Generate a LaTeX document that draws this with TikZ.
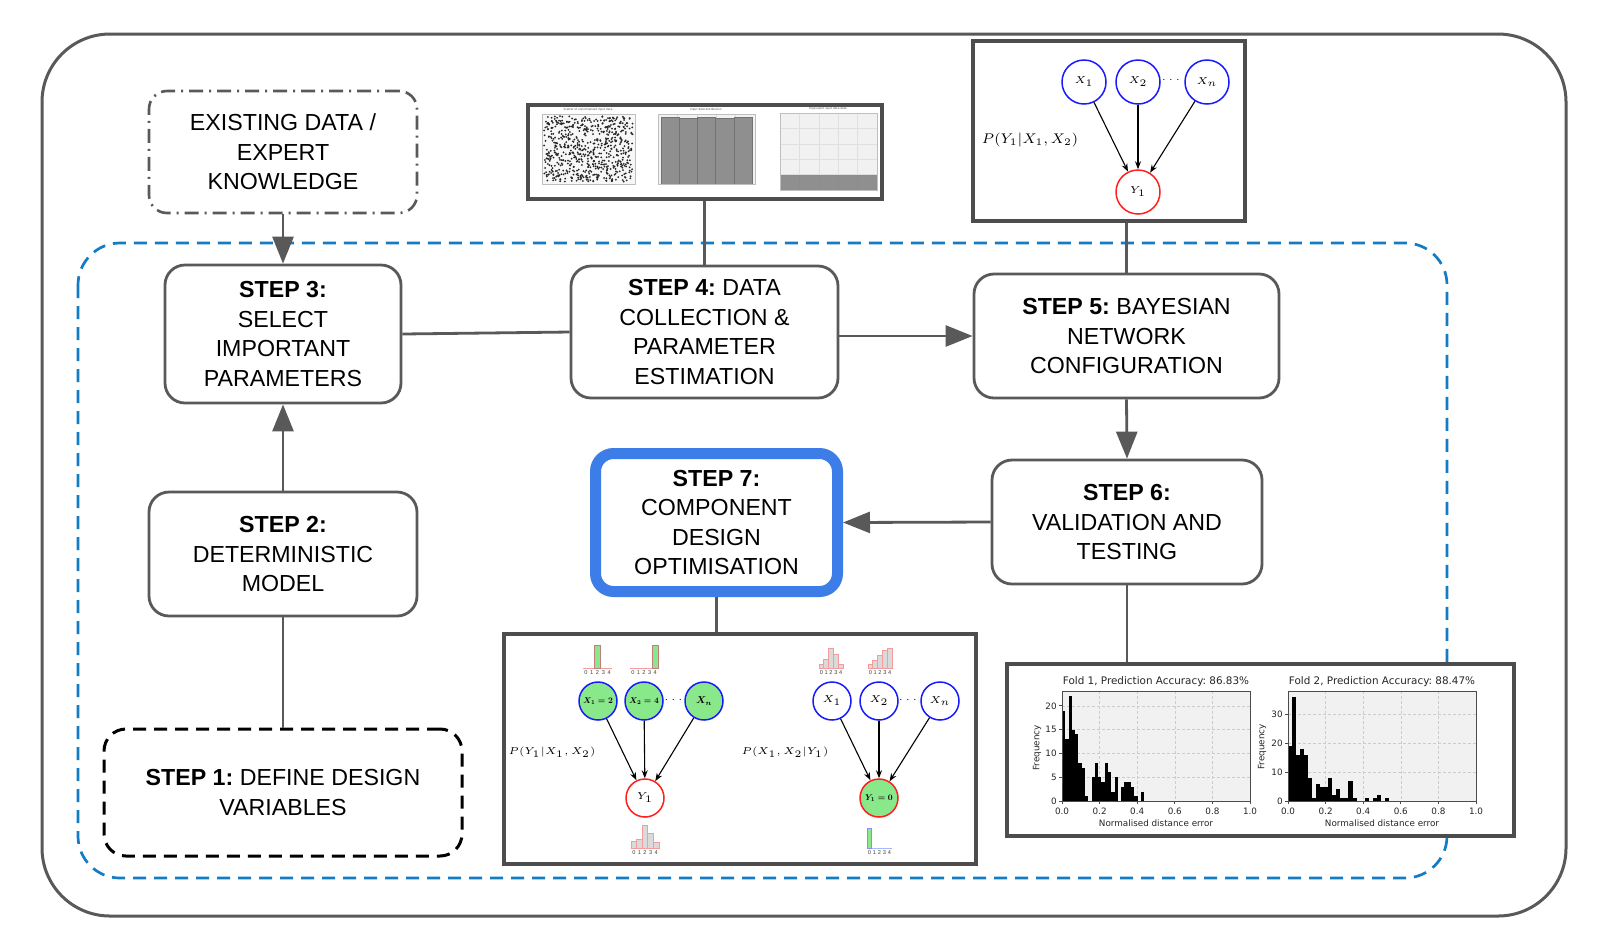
\documentclass[tikz,border=0pt]{standalone}
\usepackage{fontspec}
\usepackage{graphicx}
\setmainfont{Liberation Sans}
\newfontfamily\plotfont{DejaVu Sans}
\usetikzlibrary{arrows.meta}
\definecolor{cgray}{HTML}{595959}
\definecolor{bgray}{HTML}{4D4D4D}
\definecolor{cblue}{HTML}{137CC4}
\definecolor{sblue}{HTML}{3D7DE8}
\definecolor{bnblue}{HTML}{1A1AFF}
\definecolor{bnred}{HTML}{FF1F1F}
\definecolor{bngreen}{HTML}{89E889}
\definecolor{plotbg}{HTML}{F1F1F1}
\definecolor{histpink}{HTML}{F29C9C}
\definecolor{histgray}{HTML}{DADADA}
\definecolor{bargray}{HTML}{8F8F8F}
\definecolor{hbase}{HTML}{A8B8FF}
\newcommand{\bnbold}[2]{\scalebox{#1}{\fontsize{10}{12}\selectfont\boldmath$#2$}}
\begin{document}
\frenchspacing
\begin{tikzpicture}[x=0.5pt,y=-0.5pt,
  stepbox/.style={draw=cgray, line width=1.4pt, rounded corners=10pt, fill=white, align=center, inner sep=0pt, font=\fontsize{11.6pt}{14.75pt}\selectfont},
  conn/.style={draw=cgray, line width=1.4pt},
  arr/.style={conn, -{Triangle[length=13.5pt,width=10.5pt]}},
  inset/.style={draw=bgray, line width=1.6pt, fill=white, inner sep=0pt},
  bnx/.style={circle, draw=bnblue, line width=0.75pt, inner sep=0pt, minimum size=22pt, font=\fontsize{5}{6}\selectfont},
  bny/.style={bnx, draw=bnred},
  bnxs/.style={bnx, minimum size=19pt, font=\fontsize{4.7}{5.5}\selectfont},
  bnys/.style={bnxs, draw=bnred},
  bnlab/.style={inner sep=0pt},
  bnedge/.style={draw=black, line width=0.55pt, -{Stealth[length=4pt,width=3pt]}},
  plab/.style={inner sep=0pt, font=\fontsize{6.6}{8}\selectfont},
  plabs/.style={inner sep=0pt, font=\fontsize{5.3}{6.5}\selectfont},
  digit/.style={inner sep=0pt, font=\fontsize{2.8}{3}\selectfont, text=black!75},
  gridl/.style={draw=gray!40, line width=0.3pt, dash pattern=on 1.5pt off 1pt},
  axisl/.style={draw=black!70, line width=0.4pt},
  ticklab/.style={inner sep=0.5pt, font=\plotfont\fontsize{4.4}{5}\selectfont, text=black!85},
  titlelab/.style={inner sep=0pt, font=\plotfont\fontsize{5.2}{6}\selectfont, text=black!85},
  tinylab/.style={inner sep=0pt, font=\plotfont\fontsize{1.4}{1.6}\selectfont, text=black!70}
]
\useasboundingbox (0,0) rectangle (1605,950);
\fill[white] (0,0) rectangle (1605,950);

% outer frame and dashed group
\draw[cgray, line width=1.5pt, rounded corners=34pt] (42,34) rectangle (1566,916);
\draw[cblue, line width=1.35pt, dash pattern=on 6.5pt off 4pt, rounded corners=21pt] (78,243) rectangle (1447,878);

% step boxes
\node[stepbox, dash pattern=on 7pt off 3pt on 1pt off 3pt, line width=1.3pt, rounded corners=9pt, minimum width=134pt, minimum height=61pt] (ex) at (283,152) {EXISTING DATA /\\EXPERT\\KNOWLEDGE};
\node[stepbox, minimum width=118pt, minimum height=69pt] (s3) at (283,334) {\textbf{STEP 3:}\\SELECT\\IMPORTANT\\PARAMETERS};
\node[stepbox, minimum width=134pt, minimum height=62pt] (s2) at (283,554) {\textbf{STEP 2:}\\DETERMINISTIC\\MODEL};
\node[stepbox, draw=black, dash pattern=on 6.5pt off 4pt, line width=1.5pt, rounded corners=11pt, minimum width=179pt, minimum height=63.5pt] (s1) at (283,792.5) {\textbf{STEP 1:} DEFINE DESIGN\\VARIABLES};
\node[stepbox, minimum width=133.5pt, minimum height=66pt] (s4) at (704.5,332) {\textbf{STEP 4:} DATA\\COLLECTION \&\\PARAMETER\\ESTIMATION};
\node[stepbox, minimum width=152.5pt, minimum height=62pt] (s5) at (1126.5,336) {\textbf{STEP 5:} BAYESIAN\\NETWORK\\CONFIGURATION};
\node[stepbox, minimum width=135pt, minimum height=62pt] (s6) at (1127,522) {\textbf{STEP 6:}\\VALIDATION AND\\TESTING};
\node[stepbox, draw=sblue, line width=5.5pt, rounded corners=9pt, minimum width=121pt, minimum height=69pt] (s7) at (716.5,522.5) {\textbf{STEP 7:}\\COMPONENT\\DESIGN\\OPTIMISATION};

% inset frames
\node[inset, minimum width=177pt, minimum height=47pt] (img4) at (705,152) {};
\node[inset, minimum width=136pt, minimum height=90pt] (bn5) at (1109,131) {};
\node[inset, minimum width=236pt, minimum height=115pt] (bn7) at (740,749) {};
\node[inset, minimum width=253.5pt, minimum height=86pt] (res) at (1260.5,750) {};

% connectors
\draw[arr] (ex.south) -- (s3.north);
\draw[arr] (s2.north) -- (s3.south);
\draw[conn] (s1.north) -- (s2.south);
\draw[conn] (s3.east) -- (s4.west);
\draw[arr] (s4.east |- s5.west) -- (s5.west);
\draw[arr] (s5.south) -- (s6.north);
\draw[arr] (s6.west) -- (s7.east);
\draw[conn] (s4.north) -- (s4.north |- img4.south);
\draw[conn] (s5.north) -- (s5.north |- bn5.south);
\draw[conn] (s7.south) -- (s7.south |- bn7.north);
\draw[conn] (s6.south) -- (s6.south |- res.north);

% ---------- Step 4 inset: data plots ----------
\fill[gray!6] (542,114) rectangle (635,184);
\pgfmathsetseed{12345}
\foreach \k in {1,...,680}{\fill[black!85] ({544+89*rnd},{116+66*rnd}) circle (0.5pt);}
\draw[gray!50, line width=0.3pt] (542,114) rectangle (635,184);
\node[tinylab] (t4a) at (588,110) {Scatter of unnormalised input data};
\fill[plotbg] (658,114) rectangle (755,184);
\foreach \i in {1,...,4} \draw[gray!30, line width=0.25pt] ({658+19.4*\i},114) -- ({658+19.4*\i},184);
\foreach \t [count=\i from 0] in {117,118,117,118,117} \filldraw[fill=bargray, draw=black!55, line width=0.25pt] ({661+18.2*\i},184) rectangle ({661+18.2*(\i+1)},\t);
\draw[gray!50, line width=0.3pt] (658,114) rectangle (755,184);
\node[tinylab] (t4b) at (706,110) {Input data distribution};
\fill[plotbg] (780,113) rectangle (877,190);
\foreach \i in {1,...,4} \draw[gray!25, line width=0.25pt] ({780+19.4*\i},113) -- ({780+19.4*\i},190);
\foreach \i in {1,...,4} \draw[gray!25, line width=0.25pt] (780,{113+15.4*\i}) -- (877,{113+15.4*\i});
\foreach \i in {0,...,4} \filldraw[fill=bargray, draw=black!45, line width=0.25pt] ({780+19.4*\i},175) rectangle ({780+19.4*(\i+1)},190);
\draw[gray!50, line width=0.3pt] (780,113) rectangle (877,190);
\node[tinylab] (t4c) at (828,109) {Equivalent input data data};

% ---------- Step 5 inset: Bayesian network ----------
\node[bnx] (a1) at (1084,82) {$X_1$};
\node[bnx] (a2) at (1138,82) {$X_2$};
\node[bnx] (an) at (1207,82) {$X_n$};
\node[bny] (ay) at (1138,192) {$Y_1$};
\node[inner sep=0pt, font=\fontsize{5}{6}\selectfont] (adots) at (1171,80) {$\cdots$};
\node[plab] (ap) at (1030,140) {$P(Y_1|X_1,X_2)$};
\draw[bnedge] (a1) -- (ay);
\draw[bnedge] (a2) -- (ay);
\draw[bnedge] (an) -- (ay);

% ---------- Step 7 inset: inference ----------
\node[bnxs, fill=bngreen] (l1) at (598,701) {};
\node[bnxs, fill=bngreen] (l2) at (644,701) {};
\node[bnxs, fill=bngreen] (ln) at (704,701) {};
\node[bnlab] (l1t) at (l1.center) {\bnbold{0.42}{X_1=2}};
\node[bnlab] (l2t) at (l2.center) {\bnbold{0.42}{X_2=4}};
\node[bnlab] (lnt) at (ln.center) {\bnbold{0.5}{X_n}};
\node[bnys] (ly) at (645,798) {$Y_1$};
\node[inner sep=0pt, font=\fontsize{4.7}{5.5}\selectfont] (ldots) at (673.5,700) {$\cdots$};
\node[plabs] (lp) at (552,752) {$P(Y_1|X_1,X_2)$};
\draw[bnedge] (l1) -- (ly);
\draw[bnedge] (l2) -- (ly);
\draw[bnedge] (ln) -- (ly);

\node[bnxs] (r1) at (832,701) {$X_1$};
\node[bnxs] (r2) at (879,701) {$X_2$};
\node[bnxs] (rn) at (940,701) {$X_n$};
\node[bnys, fill=bngreen] (ry) at (879,798) {};
\node[bnlab] (ryt) at (ry.center) {\bnbold{0.42}{Y_1=0}};
\node[inner sep=0pt, font=\fontsize{4.7}{5.5}\selectfont] (rdots) at (908,700) {$\cdots$};
\node[plabs] (rp) at (785,752) {$P(X_1,X_2|Y_1)$};
\draw[bnedge] (r1) -- (ry);
\draw[bnedge] (r2) -- (ry);
\draw[bnedge] (rn) -- (ry);

% mini histograms
% above left X1
\draw[histpink, line width=0.5pt] (583,668) -- (612,668);
\filldraw[fill=bngreen, draw=histpink!80!black, line width=0.3pt] (594.6,668) rectangle (600.4,645);
\foreach \d in {0,...,4} \node[digit] (dA\d) at ({583+5.8*(\d+0.5)},673) {\d};
% above left X2
\draw[histpink, line width=0.5pt] (630,668) -- (658,668);
\filldraw[fill=bngreen, draw=histpink!80!black, line width=0.3pt] (652.4,668) rectangle (658,645);
\foreach \d in {0,...,4} \node[digit] (dB\d) at ({630+5.6*(\d+0.5)},673) {\d};
% below left Y1
\foreach \h [count=\i from 0] in {6.7,8.7,22.7,14.3,6} \filldraw[fill=histgray, draw=histpink, line width=0.4pt] ({631+5.6*\i},848) rectangle ({631+5.6*(\i+1)},{848-\h});
\foreach \d in {0,...,4} \node[digit] (dC\d) at ({631+5.6*(\d+0.5)},852.5) {\d};
% above right X1
\foreach \h [count=\i from 0] in {4,8.3,20,13.3,4} \filldraw[fill=histgray, draw=histpink, line width=0.4pt] ({819+4.8*\i},668) rectangle ({819+4.8*(\i+1)},{668-\h});
\foreach \d in {0,...,4} \node[digit] (dD\d) at ({819+4.8*(\d+0.5)},673) {\d};
% above right X2
\foreach \h [count=\i from 0] in {4,7.7,12.7,17.3,20} \filldraw[fill=histgray, draw=histpink, line width=0.4pt] ({868+4.8*\i},668) rectangle ({868+4.8*(\i+1)},{668-\h});
\foreach \d in {0,...,4} \node[digit] (dE\d) at ({868+4.8*(\d+0.5)},673) {\d};
% below right Y1=0
\draw[hbase, line width=0.5pt] (867,848) -- (892,848);
\filldraw[fill=bngreen, draw=bnblue!50, line width=0.3pt] (867,848) rectangle (871.5,828);
\foreach \d in {0,...,4} \node[digit] (dF\d) at ({867+5*(\d+0.5)},852.5) {\d};

% ---------- Step 6 inset: validation histograms ----------
% Fold 1
\fill[plotbg] (1062,691) rectangle (1250,801);
\foreach \g in {0.2,0.4,0.6,0.8} \draw[gridl] ({1062+188*\g},691) -- ({1062+188*\g},801);
\foreach \v in {5,10,15,20} \draw[gridl] (1062,{801-4.76*\v}) -- (1250,{801-4.76*\v});
\foreach \h [count=\i from 0] in {19,13,22,15,14,8,7,1,0,5,8,5,4,8,6,2,5,0,3,4,4,3,1,0,2} \fill[black] ({1062+3.286*\i},801) rectangle ({1062+3.286*(\i+1)},{801-4.76*\h});
\draw[axisl] (1062,691) rectangle (1250,801);
\foreach \t/\l in {0/0.0,0.2/0.2,0.4/0.4,0.6/0.6,0.8/0.8,1/1.0} {\draw[axisl] ({1062+188*\t},801) -- ++(0,3); \node[ticklab] (xa\l) at ({1062+188*\t},811) {\l};}
\foreach \v in {0,5,10,15,20} {\draw[axisl] (1062,{801-4.76*\v}) -- ++(-3,0); \node[ticklab,anchor=east] (ya\v) at (1058,{801-4.76*\v}) {\v};}
\node[ticklab,rotate=90] (f1y) at (1037,748) {Frequency};
\node[ticklab] (f1x) at (1156,823) {Normalised distance error};
\node[titlelab] (f1t) at (1156,682) {Fold 1, Prediction Accuracy: 86.83\%};
% Fold 2
\fill[plotbg] (1288,691) rectangle (1476,801);
\foreach \g in {0.2,0.4,0.6,0.8} \draw[gridl] ({1288+188*\g},691) -- ({1288+188*\g},801);
\foreach \v in {10,20,30} \draw[gridl] (1288,{801-2.9*\v}) -- (1476,{801-2.9*\v});
\foreach \h [count=\i from 0] in {19,36,16,18,16,8,1,6,5,5,8,2,4,1,1,7,1,0,0,1,0,1,2,0,1} \fill[black] ({1288+4.03*\i},801) rectangle ({1288+4.03*(\i+1)},{801-2.9*\h});
\draw[axisl] (1288,691) rectangle (1476,801);
\foreach \t/\l in {0/0.0,0.2/0.2,0.4/0.4,0.6/0.6,0.8/0.8,1/1.0} {\draw[axisl] ({1288+188*\t},801) -- ++(0,3); \node[ticklab] (xb\l) at ({1288+188*\t},811) {\l};}
\foreach \v in {0,10,20,30} {\draw[axisl] (1288,{801-2.9*\v}) -- ++(-3,0); \node[ticklab,anchor=east] (yb\v) at (1284,{801-2.9*\v}) {\v};}
\node[ticklab,rotate=90] (f2y) at (1262,747) {Frequency};
\node[ticklab] (f2x) at (1382,823) {Normalised distance error};
\node[titlelab] (f2t) at (1382,682) {Fold 2, Prediction Accuracy: 88.47\%};
\end{tikzpicture}
\end{document}
